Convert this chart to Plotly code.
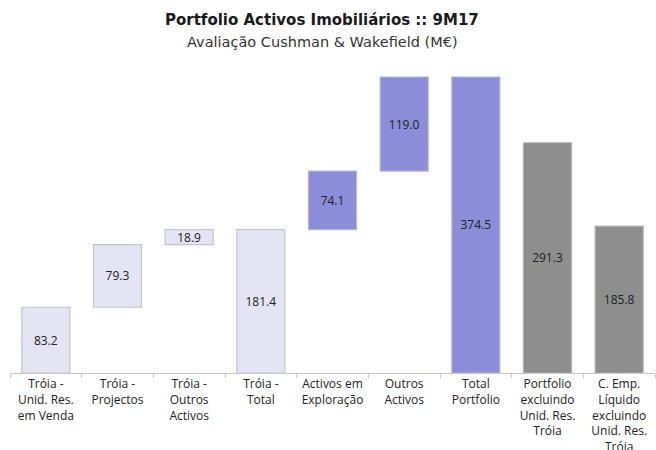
import plotly.graph_objects as go

categories = [
    "Tróia -<br>Unid. Res.<br>em Venda",
    "Tróia -<br>Projectos",
    "Tróia -<br>Outros<br>Activos",
    "Tróia -<br>Total",
    "Activos em<br>Exploração",
    "Outros<br>Activos",
    "Total<br>Portfolio",
    "Portfolio<br>excluindo<br>Unid. Res.<br>Tróia",
    "C. Emp.<br>Líquido<br>excluindo<br>Unid. Res.<br>Tróia",
]
values = [83.2, 79.3, 18.9, 181.4, 74.1, 119.0, 374.5, 291.3, 185.8]
kinds = ["step", "step", "step", "total", "step", "step", "total", "standalone", "standalone"]
groups = ["troia", "troia", "troia", "troia", "other", "other", "other", "excl", "excl"]
title_text = "Portfolio Activos Imobiliários :: 9M17"
subtitle_text = "Avaliação Cushman & Wakefield (M€)"

group_colors = {"troia": "#e4e4f4", "other": "#8b8dd8", "excl": "#8e8e8e"}
group_lines = {"troia": "#c4c4cc", "other": "#b4b4dc", "excl": "#b0b0b0"}

bases = []
running = 0.0
for v, k in zip(values, kinds):
    if k == "step":
        bases.append(running)
        running += v
    else:
        bases.append(0)
        if k == "total":
            running = v

FONT = "Open Sans, DejaVu Sans, sans-serif"
TITLE_FONT = "DejaVu Sans, Open Sans, sans-serif"

fig = go.Figure(
    go.Bar(
        x=categories,
        y=values,
        base=bases,
        width=0.67,
        marker=dict(
            color=[group_colors[g] for g in groups],
            line=dict(color=[group_lines[g] for g in groups], width=1.2),
        ),
        text=[f"{v:.1f}" for v in values],
        textposition="inside",
        insidetextanchor="middle",
        textfont=dict(size=12, color="#222222", family=FONT, weight=500),
        hoverinfo="skip",
    )
)

fig.update_layout(
    width=656,
    height=450,
    margin=dict(l=10, r=1, t=60, b=77, autoexpand=False),
    paper_bgcolor="white",
    plot_bgcolor="white",
    font=dict(family=FONT, color="#222222"),
    showlegend=False,
    uniformtext=dict(minsize=11, mode="show"),
    annotations=[
        dict(
            text=title_text, xref="paper", yref="paper", x=0.484, y=1.128,
            xanchor="center", yanchor="middle", showarrow=False,
            font=dict(size=15, color="#1a1a1a", family=TITLE_FONT, weight="bold"),
        ),
        dict(
            text=subtitle_text, xref="paper", yref="paper", x=0.485, y=1.058,
            xanchor="center", yanchor="middle", showarrow=False,
            font=dict(size=14.5, color="#333333", family=TITLE_FONT),
        ),
    ],
    xaxis=dict(
        showline=True,
        linecolor="#c8c8c8",
        linewidth=1,
        ticks="outside",
        tickson="boundaries",
        ticklen=4,
        tickcolor="#c8c8c8",
        tickfont=dict(size=12, color="#222222", family=FONT, weight=500),
        showgrid=False,
        automargin=False,
    ),
    yaxis=dict(
        range=[0, 396],
        visible=False,
        showgrid=False,
        automargin=False,
    ),
)

fig.write_html(
    "out.html",
    config={"displayModeBar": False},
    post_script="document.body.style.margin='0';",
)
